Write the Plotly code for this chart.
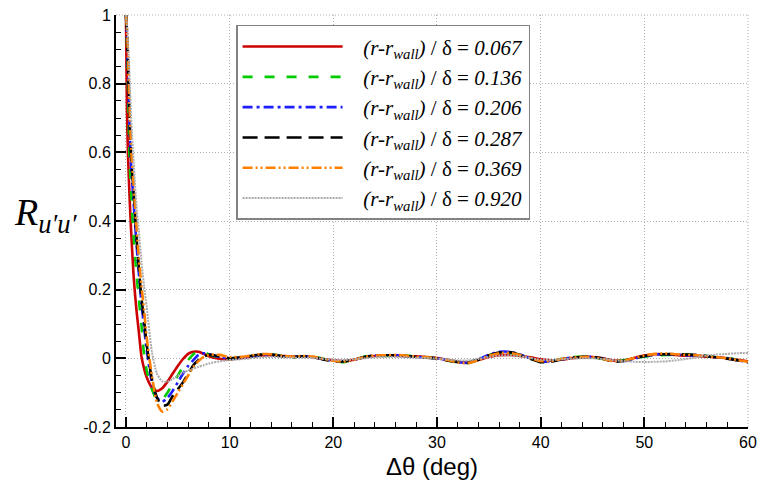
import plotly.graph_objects as go

# ---- data ----
x_head = [0, 0.1, 0.2, 0.35, 0.5, 0.75, 1, 1.25, 1.5, 1.75, 2, 2.5, 3, 3.5, 4,
          4.5, 5, 5.5, 6, 6.5, 7, 7.5, 8, 9, 10]
x_tail = [11, 12, 13, 14, 15, 16, 17, 18, 19, 20, 21, 22, 23, 24, 25, 26, 27, 28,
          29, 30, 31, 32, 33, 34, 35, 36, 37, 38, 39, 40, 41, 42, 43, 44, 45, 46,
          47, 48, 49, 50, 51, 52, 53, 54, 55, 56, 57, 58, 59, 60]

labels = ["0.067", "0.136", "0.206", "0.287", "0.369", "0.920"]

r067_head = [1.0, 0.72, 0.59, 0.47, 0.37, 0.235, 0.145, 0.075, 0.005, -0.03, -0.055,
             -0.085, -0.095, -0.087, -0.068, -0.045, -0.022, -0.002, 0.013, 0.019,
             0.019, 0.013, 0.006, -0.001, -0.003]
r067_tail = [0.000, 0.004, 0.008, 0.009, 0.007, 0.005, 0.006, 0.003, -0.002, -0.006,
             -0.008, -0.004, 0.003, 0.007, 0.008, 0.008, 0.006, 0.006, 0.004, 0.001,
             -0.004, -0.010, -0.012, -0.005, 0.004, 0.009, 0.010, 0.007, 0.003, -0.003,
             -0.006, -0.004, 0.000, 0.003, 0.004, 0.000, -0.006, -0.006, 0.001, 0.008,
             0.012, 0.012, 0.010, 0.008, 0.007, 0.005, 0.003, 0.000, -0.004, -0.009]

r136_head = [1.0, 0.92, 0.79, 0.58, 0.48, 0.35, 0.25, 0.17, 0.095, 0.01, -0.035,
             -0.09, -0.12, -0.12, -0.1, -0.075, -0.05, -0.025, -0.005, 0.012, 0.02,
             0.018, 0.012, 0.002, -0.002]
r136_tail = [0.002, 0.005, 0.009, 0.011, 0.008, 0.004, 0.006, 0.005, -0.001, -0.008,
             -0.011, -0.005, 0.005, 0.009, 0.007, 0.008, 0.008, 0.006, 0.003, 0.000,
             -0.006, -0.012, -0.014, -0.003, 0.009, 0.016, 0.016, 0.009, 0.000, -0.010,
             -0.009, -0.001, 0.003, 0.005, 0.003, -0.002, -0.009, -0.006, 0.001, 0.005,
             0.008, 0.010, 0.010, 0.011, 0.010, 0.007, 0.004, 0.001, -0.004, -0.010]

r206_head = [1.0, 0.94, 0.84, 0.68, 0.56, 0.45, 0.34, 0.245, 0.16, 0.09, 0.025,
             -0.07, -0.115, -0.126, -0.115, -0.095, -0.07, -0.045, -0.022, -0.005,
             0.01, 0.015, 0.012, 0.004, 0.0]
r206_tail = [0.001, 0.005, 0.009, 0.010, 0.007, 0.005, 0.006, 0.004, -0.002, -0.007,
             -0.009, -0.004, 0.004, 0.008, 0.009, 0.009, 0.007, 0.004, 0.002, 0.000,
             -0.005, -0.011, -0.013, -0.003, 0.010, 0.019, 0.019, 0.011, 0.000, -0.009,
             -0.009, -0.003, 0.002, 0.004, 0.004, -0.001, -0.008, -0.008, -0.001, 0.006,
             0.011, 0.012, 0.011, 0.009, 0.008, 0.006, 0.003, 0.000, -0.006, -0.011]

r287_head = [1.0, 0.95, 0.86, 0.7, 0.58, 0.48, 0.36, 0.26, 0.175, 0.11, 0.04,
             -0.06, -0.115, -0.138, -0.135, -0.11, -0.09, -0.07, -0.045, -0.02,
             -0.005, 0.005, 0.01, 0.006, 0.0]
r287_tail = [0.003, 0.007, 0.011, 0.011, 0.006, 0.003, 0.006, 0.004, -0.003, -0.008,
             -0.009, -0.004, 0.004, 0.008, 0.009, 0.009, 0.007, 0.004, 0.002, -0.001,
             -0.006, -0.011, -0.013, -0.004, 0.008, 0.017, 0.018, 0.010, -0.001, -0.011,
             -0.010, -0.003, 0.002, 0.004, 0.005, -0.001, -0.009, -0.008, 0.000, 0.007,
             0.010, 0.012, 0.012, 0.011, 0.010, 0.007, 0.003, -0.001, -0.006, -0.011]

r369_head = [1.0, 0.96, 0.88, 0.73, 0.61, 0.5, 0.39, 0.29, 0.21, 0.14, 0.06,
             -0.05, -0.13, -0.155, -0.148, -0.125, -0.1, -0.075, -0.05, -0.025,
             -0.008, 0.004, 0.01, 0.01, 0.004]
r369_tail = [0.004, 0.008, 0.012, 0.012, 0.008, 0.005, 0.007, 0.005, -0.001, -0.007,
             -0.009, -0.004, 0.004, 0.008, 0.009, 0.010, 0.008, 0.005, 0.003, 0.000,
             -0.005, -0.012, -0.014, -0.005, 0.007, 0.015, 0.016, 0.010, 0.001, -0.008,
             -0.008, -0.002, 0.002, 0.004, 0.004, -0.002, -0.008, -0.007, 0.001, 0.008,
             0.013, 0.014, 0.012, 0.010, 0.009, 0.006, 0.003, 0.000, -0.005, -0.010]

r920_head = [1.0, 0.97, 0.92, 0.82, 0.7, 0.57, 0.45, 0.37, 0.28, 0.21, 0.15, 0.02,
             -0.045, -0.067, -0.068, -0.06, -0.05, -0.042, -0.035, -0.03, -0.025,
             -0.02, -0.015, -0.009, -0.005]
r920_tail = [-0.003, 0.000, 0.003, 0.004, 0.003, 0.002, 0.002, 0.001, -0.002, -0.004,
             -0.005, -0.003, 0.000, 0.003, 0.004, 0.004, 0.003, 0.002, 0.001, -0.001,
             -0.003, -0.006, -0.006, -0.002, 0.004, 0.008, 0.009, 0.006, 0.001, -0.004,
             -0.005, -0.003, -0.001, 0.000, 0.000, -0.002, -0.005, -0.008, -0.010, -0.011,
             -0.010, -0.009, -0.006, -0.002, 0.003, 0.008, 0.011, 0.013, 0.015, 0.016]

x_ticks = [0, 10, 20, 30, 40, 50, 60]
y_ticks = [-0.2, 0, 0.2, 0.4, 0.6, 0.8, 1]
y_ticktext = ["-0.2", "0", "0.2", "0.4", "0.6", "0.8", "1"]

# ---- styles ----
series = [
    (r067_head + r067_tail, "rgb(204,0,0)", "solid", 2.6),
    (r136_head + r136_tail, "rgb(0,204,0)", "10px,12px", 2.6),
    (r206_head + r206_tail, "rgb(30,30,255)", "10px,4px,3px,4px", 2.6),
    (r287_head + r287_tail, "rgb(0,0,0)", "15px,7px", 2.6),
    (r369_head + r369_tail, "rgb(255,128,0)", "10px,3px,2px,3px,2px,3px", 2.6),
    (r920_head + r920_tail, "rgb(170,170,170)", "2px,1px", 2.0),
]

xs = x_head + x_tail
fig = go.Figure()
for (ys, color, dash, w), lab in zip(series, labels):
    fig.add_trace(go.Scatter(
        x=xs, y=ys, mode="lines",
        line=dict(color=color, dash=dash, width=w, shape="spline", smoothing=0.7),
        name="&nbsp;&nbsp;&nbsp;<i>(r-r<sub>wall</sub>)</i> / δ = <i>" + lab + "</i>",
    ))

grid_color = "rgb(175,175,175)"
grid_dash = "1px,2px"
grid = dict(showgrid=True, gridcolor=grid_color, gridwidth=1, griddash=grid_dash)

fig.update_xaxes(
    range=[-0.96, 60], tickvals=x_ticks, ticks="inside", ticklen=10, tickwidth=2,
    tickcolor="black", showline=True, linecolor="black", linewidth=2, zeroline=False,
    tickfont=dict(family="Liberation Sans", size=16, color="black"),
    ticklabeloverflow="allow",
    minor=dict(dtick=2, tick0=0, ticks="inside", ticklen=5, tickwidth=1,
               tickcolor="black", showgrid=False),
    title=dict(text="Δθ (deg)", font=dict(family="Liberation Sans", size=24,
               color="black"), standoff=8),
    **grid,
)
fig.update_yaxes(
    range=[-0.2, 1], tickvals=y_ticks, ticktext=y_ticktext, ticks="inside",
    ticklen=10, tickwidth=2, tickcolor="black", showline=True, linecolor="black",
    linewidth=2, zeroline=False,
    tickfont=dict(family="Liberation Sans", size=16, color="black"),
    ticklabeloverflow="allow",
    minor=dict(dtick=0.05, tick0=0, ticks="inside", ticklen=5, tickwidth=1,
               tickcolor="black", showgrid=False),
    **grid,
)

# dotted frame lines along the top and right edges (grid at y=1 and x=60)
fig.add_shape(type="line", xref="paper", yref="paper", x0=0, x1=1, y0=1, y1=1,
              line=dict(color=grid_color, width=1, dash=grid_dash), layer="below")
fig.add_shape(type="line", xref="paper", yref="paper", x0=1, x1=1, y0=0, y1=1,
              line=dict(color=grid_color, width=1, dash=grid_dash), layer="below")

fig.add_annotation(
    xref="paper", yref="paper", x=-0.11, y=0.515, xanchor="center", yanchor="middle",
    text="<i>R<sub>u′u′</sub></i>", showarrow=False,
    font=dict(family="Liberation Serif", size=38, color="black"),
)

fig.update_layout(
    width=764, height=487,
    margin=dict(l=116, r=10, t=7, b=60),
    paper_bgcolor="white", plot_bgcolor="white",
    showlegend=True,
    legend=dict(
        x=0.19, y=0.976, xanchor="left", yanchor="top",
        bgcolor="white", bordercolor="rgb(130,130,130)", borderwidth=1.5,
        font=dict(family="Liberation Serif", size=21, color="black"),
        itemwidth=100,
    ),
)

fig.write_html("out.html")
